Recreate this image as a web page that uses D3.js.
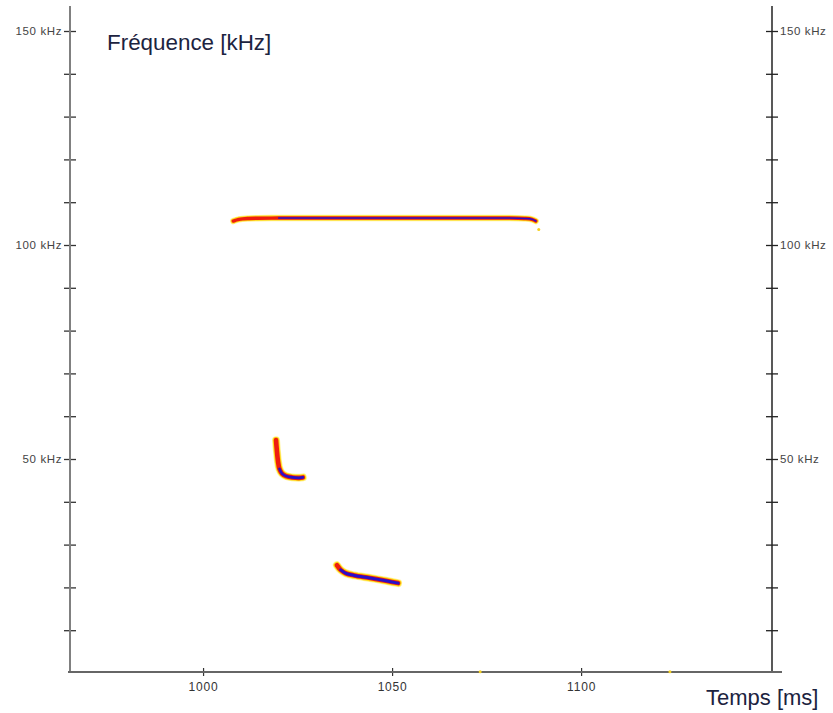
<!DOCTYPE html>
<html><head><meta charset="utf-8">
<script src="https://cdn.jsdelivr.net/npm/d3@7"></script>
<style>html,body{margin:0;padding:0;background:#fff;}svg{display:block;}</style>
</head><body>
<svg id="chart" width="833" height="713"></svg>
<script>
// ---- data ----
const yTickValues = [10,20,30,40,50,60,70,80,90,100,110,120,130,140,150];
const yLabelValues = [50,100,150];
const xTickValues = [1000,1050,1100];
const yTitle = "Fréquence [kHz]";
const xTitle = "Temps [ms]";

// call 1: constant frequency (time ms, freq kHz)
const call1Time = [1008.0,1009.5,1012,1020,1035,1050,1065,1080,1085,1087.0,1088.0];
const call1Freq = [105.6,106.0,106.2,106.3,106.3,106.3,106.3,106.3,106.2,106.0,105.6];
// call 2: FM hook
const call2Time = [1019.3,1019.5,1019.8,1020.2,1020.9,1022.0,1023.6,1025.4,1026.4];
const call2Freq = [54.4,52.2,49.6,47.7,46.6,46.0,45.7,45.6,45.7];
// call 3: FM sweep
const call3Time = [1035.4,1036.4,1037.8,1040.0,1044.2,1048.7,1051.6];
const call3Freq = [25.2,24.1,23.3,22.8,22.2,21.5,21.0];
// stray faint pixels
const noiseTime = [1088.8,1073.3,1123.5];
const noiseFreq = [103.6,0.3,0.3];

const svg = d3.select("#chart");
const x = d3.scaleLinear().domain([964.8,1150.5]).range([70,772]);
const y = d3.scaleLinear().domain([0,150]).range([673,31]);

const font = "'Liberation Sans', Arial, sans-serif";

// ---- axes ----
const leftAxis = d3.axisLeft(y).tickValues(yTickValues)
  .tickFormat(d => yLabelValues.includes(d) ? d + " kHz" : "").tickSize(6).tickPadding(2);
const gL = svg.append("g").attr("transform","translate(70,0)").call(leftAxis);
gL.select(".domain").remove();
gL.append("line").attr("x1",0).attr("x2",0).attr("y1",6).attr("y2",673).attr("stroke","#808080").attr("stroke-width",2);
gL.selectAll(".tick line").attr("x1",6).attr("x2",-6).attr("stroke","#333").attr("stroke-width",1.3);
gL.selectAll(".tick text").attr("font-family",font).attr("font-size",11.5).attr("fill","#444").attr("letter-spacing","0.6px");

const rightAxis = d3.axisRight(y).tickValues(yTickValues)
  .tickFormat(d => yLabelValues.includes(d) ? d + " kHz" : "").tickSize(6).tickPadding(2);
const gR = svg.append("g").attr("transform","translate(772,0)").call(rightAxis);
gR.select(".domain").remove();
gR.append("line").attr("x1",0).attr("x2",0).attr("y1",6).attr("y2",673).attr("stroke","#222").attr("stroke-width",1.5);
gR.selectAll(".tick line").attr("x1",-6).attr("x2",6).attr("stroke","#222").attr("stroke-width",1.3);
gR.selectAll(".tick text").attr("font-family",font).attr("font-size",11.5).attr("fill","#444").attr("letter-spacing","0.6px");

const bottomAxis = d3.axisBottom(x).tickValues(xTickValues).tickFormat(d3.format("d")).tickSize(4).tickPadding(6);
const gB = svg.append("g").attr("transform","translate(0,672)").call(bottomAxis);
gB.select(".domain").remove();
gB.append("line").attr("x1",68).attr("x2",782).attr("y1",0).attr("y2",0).attr("stroke","#666").attr("stroke-width",2);
gB.selectAll(".tick line").attr("y1",-4).attr("y2",4).attr("stroke","#333").attr("stroke-width",1.2);
gB.selectAll(".tick text").attr("font-family",font).attr("font-size",12).attr("fill","#333").attr("letter-spacing","0.8px");

// ---- titles ----
svg.append("text").attr("x",107).attr("y",50).text(yTitle)
  .attr("font-family",font).attr("font-size",22.4).attr("fill","#1c2340");
svg.append("text").attr("x",706).attr("y",705).text(xTitle)
  .attr("font-family",font).attr("font-size",22).attr("fill","#1c2340");

// ---- calls ----
const line = d3.line().x(d => x(d[0])).y(d => y(d[1])).curve(d3.curveCatmullRom);
function drawCall(ts, fs, widths, blueFrom) {
  const pts = ts.map((t,i) => [t, fs[i]]);
  const g = svg.append("g");
  g.append("path").attr("d", line(pts)).attr("fill","none").attr("stroke","#fff080").attr("stroke-width",widths[0]+1.5).attr("stroke-linecap","round").attr("opacity",0.8);
  g.append("path").attr("d", line(pts)).attr("fill","none").attr("stroke","#ffd400").attr("stroke-width",widths[0]).attr("stroke-linecap","round").attr("opacity",0.9);
  g.append("path").attr("d", line(pts)).attr("fill","none").attr("stroke","#ee1c10").attr("stroke-width",widths[1]).attr("stroke-linecap","round");
  const bpts = pts.slice(blueFrom);
  g.append("path").attr("d", line(bpts)).attr("fill","none").attr("stroke","#2a10c8").attr("stroke-width",widths[2]).attr("stroke-linecap","round");
}
drawCall(call1Time, call1Freq, [5,3.4,1.6], 3);
drawCall(call2Time, call2Freq, [6.5,4.6,2.6], 3);
drawCall(call3Time, call3Freq, [6.5,4.6,3], 1);

svg.append("g").selectAll("circle").data(noiseTime).join("circle")
  .attr("cx",(d,i)=>x(d)).attr("cy",(d,i)=>y(noiseFreq[i])).attr("r",1.5).attr("fill","#f5d020");
</script>
</body></html>
